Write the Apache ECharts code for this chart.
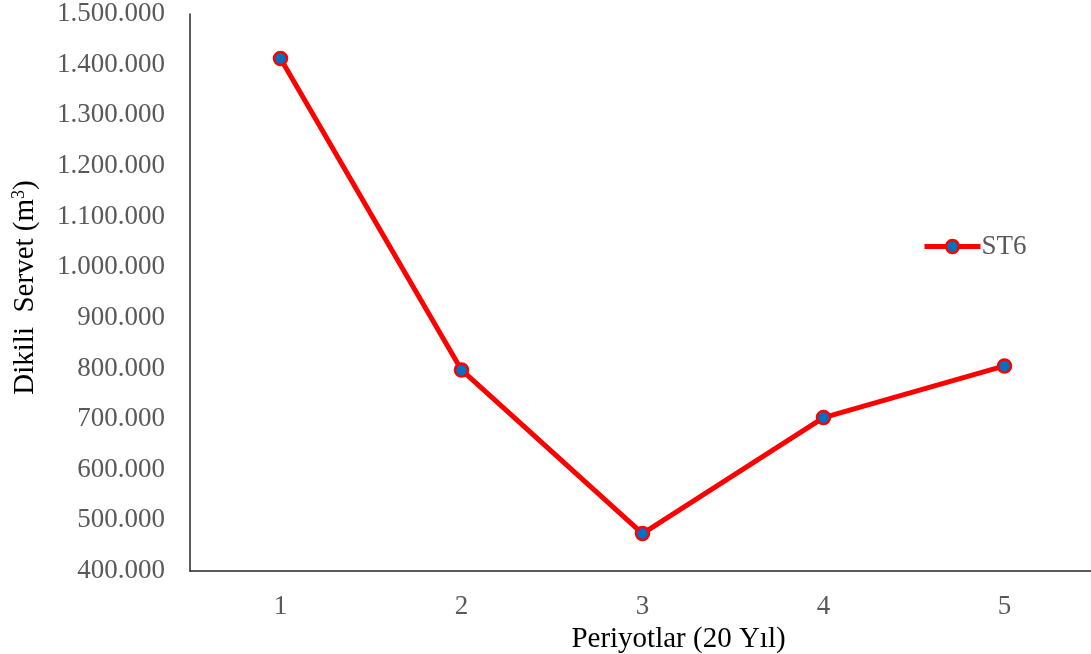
<!DOCTYPE html>
<html>
<head>
<meta charset="utf-8">
<script src="https://cdn.jsdelivr.net/npm/echarts@6/dist/echarts.min.js"></script>
<style>html,body{margin:0;padding:0;background:#fff}#c{width:1091px;height:654px}</style>
</head>
<body>
<div id="c"></div>
<script>
const categories = ['1', '2', '3', '4', '5'];
const seriesName = 'ST6';
const values = [1412000, 797000, 474000, 703000, 805000];
const yMin = 400000, yMax = 1500000, yStep = 100000;
const xTitle = 'Periyotlar (20 Yıl)';
const yTitle = 'Dikili  Servet (m{sup|3})';

function fmt(v) {
  return String(Math.round(v)).replace(/\B(?=(\d{3})+(?!\d))/g, '.');
}

const font = '"Liberation Serif", "Times New Roman", serif';
const chart = echarts.init(document.getElementById('c'));
chart.setOption({
  animation: false,
  backgroundColor: '#fff',
  grid: { left: 190, top: 14, width: 905, height: 557, containLabel: false, outerBoundsMode: 'none' },
  legend: {
    left: 917, top: 228,
    itemWidth: 56, itemHeight: 16, itemGap: 0,
    lineStyle: { width: 5, color: '#FF0000' },
    itemStyle: { color: '#0070C0', borderColor: '#FF0000', borderWidth: 2.5 },
    textStyle: { fontFamily: font, fontSize: 27, color: '#595959', padding: [0, 0, 0, -4] },
    data: [seriesName]
  },
  xAxis: {
    type: 'category',
    data: categories,
    boundaryGap: true,
    axisLine: { lineStyle: { color: '#262626', width: 1.5 } },
    axisTick: { show: false },
    axisLabel: { fontFamily: font, fontSize: 27, color: '#595959', margin: 22 },
    name: xTitle,
    nameLocation: 'middle',
    nameGap: 42,
    nameTextStyle: { fontFamily: font, fontSize: 29, color: '#000', padding: [0, 0, 0, 72] }
  },
  yAxis: {
    type: 'value',
    min: yMin, max: yMax, interval: yStep,
    axisLine: { show: true, lineStyle: { color: '#262626', width: 1.5 } },
    axisTick: { show: false },
    splitLine: { show: false },
    axisLabel: { fontFamily: font, fontSize: 27, color: '#595959', margin: 25, formatter: fmt },
    name: yTitle,
    nameLocation: 'middle',
    nameGap: 150,
    nameTextStyle: {
      fontFamily: font, fontSize: 29, color: '#000', padding: [0, 0, 0, 10],
      rich: { sup: { fontFamily: font, fontSize: 18, color: '#000', verticalAlign: 'top', padding: [0, 0, 12, 0] } }
    }
  },
  series: [{
    name: seriesName,
    type: 'line',
    data: values,
    symbol: 'circle',
    symbolSize: 13,
    lineStyle: { color: '#FF0000', width: 5 },
    itemStyle: { color: '#0070C0', borderColor: '#FF0000', borderWidth: 2.5 }
  }]
});
</script>
</body>
</html>
